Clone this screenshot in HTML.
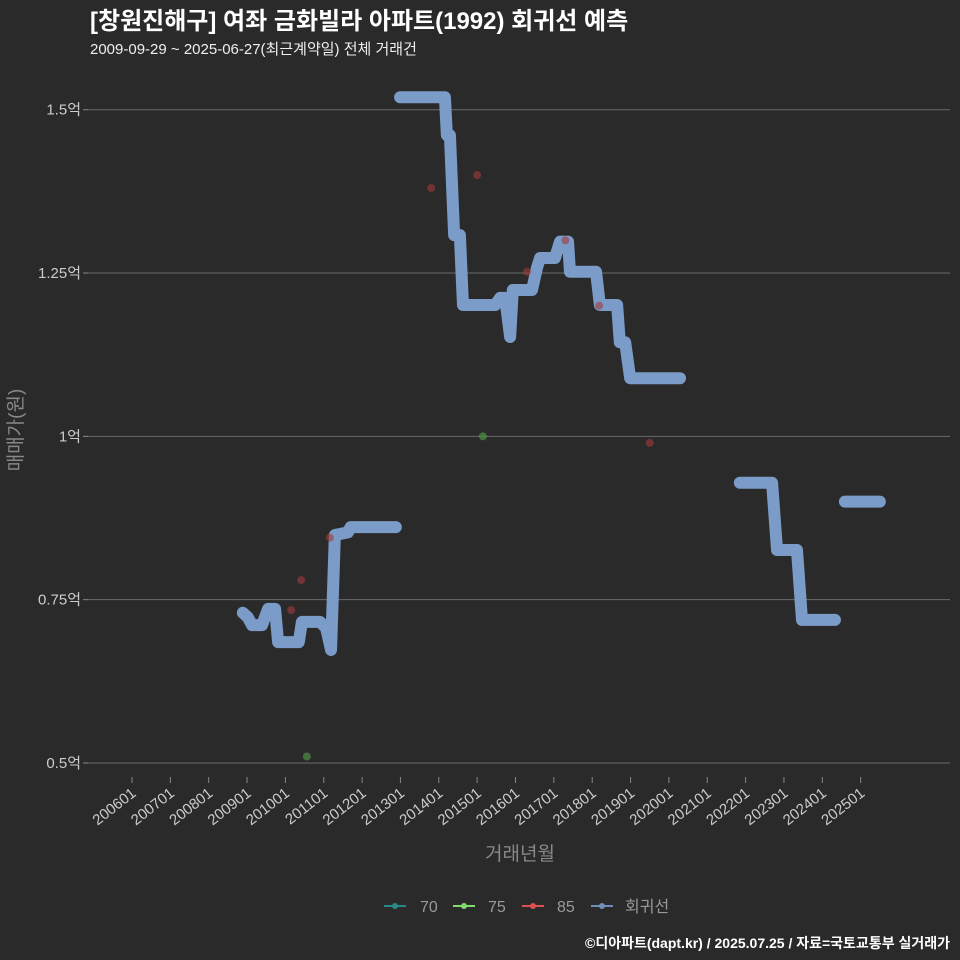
<!DOCTYPE html>
<html><head><meta charset="utf-8">
<style>
body{margin:0;background:#2b2a2b;}
svg{display:block;font-family:"Liberation Sans","Noto Sans CJK KR",sans-serif;}
</style></head>
<body>
<svg id="chart" width="960" height="960">
<rect width="960" height="960" fill="#2b2a2b"/>
<text x="90" y="29" fill="#fff" font-size="24" font-weight="bold">[창원진해구] 여좌 금화빌라 아파트(1992) 회귀선 예측</text>
<text x="90" y="54" fill="#eee" font-size="15">2009-09-29 ~ 2025-06-27(최근계약일) 전체 거래건</text>
<g id="grid"></g><g id="xaxis"></g><g id="lines"></g><g id="pts"></g>
<text transform="translate(22,430) rotate(-90)" text-anchor="middle" fill="#888" font-size="19">매매가(원)</text>
<text x="520" y="860" text-anchor="middle" fill="#888" font-size="19">거래년월</text>
<g font-size="16" fill="#999">
<g><line x1="384" y1="906" x2="406" y2="906" stroke="#2a8a8a" stroke-width="2"/><circle cx="395" cy="906" r="3" fill="#2a8a8a"/><text x="420" y="912">70</text></g>
<g><line x1="453" y1="906" x2="475" y2="906" stroke="#7fdc6a" stroke-width="2"/><circle cx="464" cy="906" r="3" fill="#7fdc6a"/><text x="488" y="912">75</text></g>
<g><line x1="522" y1="906" x2="544" y2="906" stroke="#e05050" stroke-width="2"/><circle cx="533" cy="906" r="3" fill="#e05050"/><text x="557" y="912">85</text></g>
<g><line x1="591" y1="906" x2="613" y2="906" stroke="#6f8fba" stroke-width="2"/><circle cx="602" cy="906" r="3" fill="#6f8fba"/><text x="625" y="912">회귀선</text></g>
</g>
<text x="950" y="948" text-anchor="end" fill="#fff" font-size="14" font-weight="bold">©디아파트(dapt.kr) / 2025.07.25 / 자료=국토교통부 실거래가</text>
</svg>
<script>
const yTicks=[0.5,0.75,1,1.25,1.5];
const yTickLabels=["0.5억","0.75억","1억","1.25억","1.5억"];
const xTickYears=[2006,2007,2008,2009,2010,2011,2012,2013,2014,2015,2016,2017,2018,2019,2020,2021,2022,2023,2024,2025];
const seg1Dates=[2008.89,2009.02,2009.13,2009.39,2009.55,2009.73,2009.81,2010.35,2010.43,2010.9,2011.06,2011.19,2011.29,2011.63,2011.7,2012.88];
const seg1Values=[0.73,0.723,0.711,0.711,0.736,0.736,0.685,0.685,0.716,0.716,0.707,0.673,0.849,0.853,0.861,0.861];
const seg2Dates=[2012.99,2014.16,2014.21,2014.29,2014.40,2014.55,2014.63,2015.47,2015.6,2015.73,2015.86,2015.93,2016.43,2016.56,2016.64,2017.03,2017.16,2017.37,2017.42,2018.1,2018.2,2018.65,2018.72,2018.86,2018.99,2020.29];
const seg2Values=[1.519,1.519,1.461,1.461,1.308,1.308,1.201,1.201,1.212,1.212,1.152,1.224,1.224,1.258,1.273,1.273,1.298,1.298,1.252,1.252,1.201,1.201,1.144,1.144,1.089,1.089];
const seg3Dates=[2021.85,2022.69,2022.82,2023.34,2023.47,2024.33];
const seg3Values=[0.929,0.929,0.826,0.826,0.719,0.719];
const seg4Dates=[2024.59,2025.5];
const seg4Values=[0.9,0.9];
const p85Dates=[2013.8,2015.0,2016.3,2018.18,2019.5,2010.15,2010.41,2011.16,2017.3];
const p85Values=[1.38,1.40,1.252,1.2,0.99,0.734,0.78,0.845,1.3];
const p75Dates=[2010.56,2015.15];
const p75Values=[0.51,1.0];

const NS="http://www.w3.org/2000/svg";
const X=t=>132+(t-2006)*38.35;
const Y=v=>763-(v-0.5)*653.3;
function mk(tag,attrs,parent){const e=document.createElementNS(NS,tag);for(const k in attrs)e.setAttribute(k,attrs[k]);document.getElementById(parent).appendChild(e);return e;}
yTicks.forEach((v,i)=>{
  const l=mk('line',{x1:88,x2:950,y1:Y(v),y2:Y(v),stroke:'#6a6a6a','stroke-width':1},'grid');
  
  
  const tk=mk('line',{x1:83,x2:88,y1:Y(v),y2:Y(v),stroke:'#888'},'grid');
  
  
  const t=mk('text',{x:81,y:Y(v)+5,'text-anchor':'end',fill:'#ccc','font-size':15},'grid');
  t.textContent=yTickLabels[i];
  
  
});
xTickYears.forEach(yr=>{
  const x=X(yr);
  const tk=mk('line',{x1:x,x2:x,y1:777,y2:783,stroke:'#888'},'xaxis');
  
  
  const t=mk('text',{transform:`translate(${x+5},${795}) rotate(-38)`,'text-anchor':'end',fill:'#ccc','font-size':15},'xaxis');
  t.textContent=yr+'01';
  
  
});
[[seg1Dates,seg1Values],[seg2Dates,seg2Values],[seg3Dates,seg3Values],[seg4Dates,seg4Values]].forEach(([d,v])=>{
  const p=mk('polyline',{points:d.map((t,i)=>X(t)+','+Y(v[i])).join(' '),fill:'none',stroke:'#7b9cc8','stroke-width':12,'stroke-linejoin':'round','stroke-linecap':'round'},'lines');
  
  
});
p85Dates.forEach((t,i)=>{
  const c=mk('circle',{cx:X(t),cy:Y(p85Values[i]),r:4,fill:'#a03a3a','fill-opacity':0.6},'pts');
  
  
});
p75Dates.forEach((t,i)=>{
  const c=mk('circle',{cx:X(t),cy:Y(p75Values[i]),r:4,fill:'#4f8f45','fill-opacity':0.7},'pts');
  
  
});
</script>
</body></html>
